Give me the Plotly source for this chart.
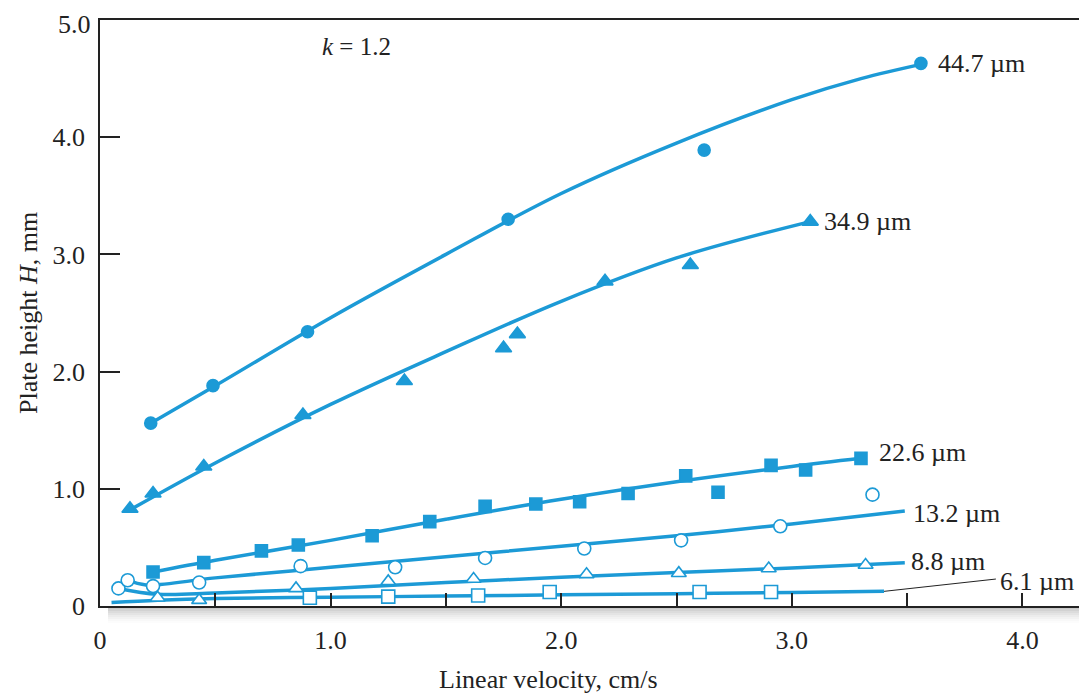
import plotly.graph_objects as go

BLUE = "#1c9ad6"
FONT = "Liberation Serif"

# ---------------- data ----------------
series_names = ["44.7 µm", "34.9 µm", "22.6 µm", "13.2 µm", "8.8 µm", "6.1 µm"]

# measured points
pts_447_x = [0.22, 0.49, 0.90, 1.77, 2.62, 3.56]
pts_447_y = [1.56, 1.88, 2.34, 3.30, 3.89, 4.63]

pts_349_x = [0.13, 0.23, 0.45, 0.88, 1.32, 1.75, 1.81, 2.19, 2.56, 3.08]
pts_349_y = [0.83, 0.96, 1.19, 1.63, 1.92, 2.20, 2.32, 2.77, 2.91, 3.28]

pts_226_x = [0.23, 0.45, 0.70, 0.86, 1.18, 1.43, 1.67, 1.89, 2.08, 2.29, 2.54, 2.68, 2.91, 3.06, 3.30]
pts_226_y = [0.29, 0.37, 0.47, 0.52, 0.60, 0.72, 0.85, 0.87, 0.89, 0.96, 1.11, 0.97, 1.20, 1.16, 1.26]

pts_132_x = [0.08, 0.12, 0.23, 0.43, 0.87, 1.28, 1.67, 2.10, 2.52, 2.95, 3.35]
pts_132_y = [0.15, 0.22, 0.17, 0.20, 0.34, 0.33, 0.41, 0.49, 0.56, 0.68, 0.95]

pts_88_x = [0.25, 0.43, 0.85, 1.25, 1.62, 2.11, 2.51, 2.90, 3.32]
pts_88_y = [0.07, 0.05, 0.15, 0.21, 0.23, 0.27, 0.28, 0.32, 0.35]

pts_61_x = [0.91, 1.25, 1.64, 1.95, 2.60, 2.91]
pts_61_y = [0.07, 0.08, 0.09, 0.12, 0.12, 0.12]

# fitted curves
fit_447_x = [0.22, 0.50, 1.00, 1.50, 2.00, 2.50, 3.00, 3.30, 3.58]
fit_447_y = [1.56, 1.88, 2.46, 3.00, 3.52, 3.95, 4.32, 4.50, 4.63]

fit_349_x = [0.13, 0.50, 1.00, 1.50, 2.00, 2.50, 3.08]
fit_349_y = [0.82, 1.22, 1.72, 2.17, 2.60, 2.97, 3.28]

fit_226_x = [0.23, 0.50, 1.00, 1.50, 2.00, 2.50, 3.00, 3.30]
fit_226_y = [0.29, 0.39, 0.56, 0.74, 0.91, 1.06, 1.19, 1.26]

fit_132_x = [0.12, 0.20, 0.50, 1.00, 1.50, 2.00, 2.50, 3.00, 3.49]
fit_132_y = [0.22, 0.18, 0.24, 0.33, 0.42, 0.51, 0.60, 0.70, 0.81]

fit_88_x = [0.08, 0.25, 0.50, 1.00, 1.50, 2.00, 2.50, 3.00, 3.49]
fit_88_y = [0.15, 0.10, 0.11, 0.15, 0.20, 0.245, 0.285, 0.325, 0.37]

fit_61_x = [0.05, 0.25, 0.50, 1.00, 1.50, 2.00, 2.50, 3.00, 3.40]
fit_61_y = [0.03, 0.05, 0.065, 0.075, 0.085, 0.095, 0.105, 0.115, 0.125]

leader_61_x = [3.40, 3.885]
leader_61_y = [0.125, 0.23]

x_tick_vals = [0, 0.5, 1.0, 1.5, 2.0, 2.5, 3.0, 3.5, 4.0]
x_tick_text = ["0", "", "1.0", "", "2.0", "", "3.0", "", "4.0"]
y_tick_vals = [0, 1, 2, 3, 4, 5]
y_tick_text = ["0", "1.0", "2.0", "3.0", "4.0", "5.0"]

# ---------------- figure ----------------
fig = go.Figure()

fits = [(fit_447_x, fit_447_y), (fit_349_x, fit_349_y), (fit_226_x, fit_226_y),
        (fit_132_x, fit_132_y), (fit_88_x, fit_88_y), (fit_61_x, fit_61_y)]
for fx, fy in fits:
    fig.add_trace(go.Scatter(x=fx, y=fy, mode="lines",
                             line=dict(color=BLUE, width=3.5, shape="spline"),
                             hoverinfo="skip", showlegend=False))

fig.add_trace(go.Scatter(x=leader_61_x, y=leader_61_y, mode="lines",
                         line=dict(color="#222222", width=1), showlegend=False))

markers = [
    (pts_447_x, pts_447_y, "circle", 12, BLUE),
    (pts_349_x, pts_349_y, "triangle-up", 14, BLUE),
    (pts_226_x, pts_226_y, "square", 12, BLUE),
    (pts_132_x, pts_132_y, "circle", 13, "white"),
    (pts_88_x, pts_88_y, "triangle-up", 13, "white"),
    (pts_61_x, pts_61_y, "square", 13, "white"),
]
for (px, py, sym, sz, fill), name in zip(markers, series_names):
    fig.add_trace(go.Scatter(x=px, y=py, mode="markers", name=name,
                             marker=dict(symbol=sym, size=sz, color=fill,
                                         line=dict(color=BLUE, width=1.6)),
                             cliponaxis=False, showlegend=False))

# curve labels
label_anchor = [
    (fit_447_x[-1], fit_447_y[-1], 10, 0),
    (fit_349_x[-1], fit_349_y[-1], 12, 0),
    (fit_226_x[-1], fit_226_y[-1], 16, 6),
    (fit_132_x[-1], fit_132_y[-1], 6, -2),
    (fit_88_x[-1], fit_88_y[-1], 4, 1),
    (leader_61_x[-1], leader_61_y[-1], 2, -2),
]
for (ax, ay, xs, ys), name in zip(label_anchor, series_names):
    fig.add_annotation(x=ax, y=ay, text=name, showarrow=False, xanchor="left",
                       yanchor="middle", xshift=xs, yshift=ys,
                       font=dict(family=FONT, size=26, color="#222222"))

fig.add_annotation(x=0.954, y=4.77, text="<i>k</i> = 1.2", showarrow=False,
                   xanchor="left", yanchor="middle",
                   font=dict(family=FONT, size=25, color="#222222"))

# top y tick label (plotly drops it at the very edge), drawn as annotation
fig.add_annotation(xref="paper", x=0, y=y_tick_vals[-1], text=y_tick_text[-1],
                   showarrow=False, xanchor="right", yanchor="middle",
                   xshift=-8, yshift=-4, borderpad=0,
                   font=dict(family=FONT, size=26, color="#222222"))

# axis titles as annotations
fig.add_annotation(xref="paper", yref="paper", x=(548 - 100) / 987, y=-(680 - 606) / 586,
                   text="Linear velocity, cm/s", showarrow=False,
                   xanchor="center", yanchor="middle",
                   font=dict(family=FONT, size=26, color="#222222"))
fig.add_annotation(xref="paper", yref="paper", x=-(100 - 28) / 987, y=(606 - 313) / 586,
                   text="Plate height <i>H</i>, mm", showarrow=False, textangle=-90,
                   xanchor="center", yanchor="middle",
                   font=dict(family=FONT, size=26, color="#222222"))

# shadow under x-axis
for i in range(8):
    fig.add_shape(type="rect", xref="paper", yref="paper",
                  x0=8 / 987, x1=1.0,
                  y0=-(1 + 2 * i) / 586, y1=-(1 + 2 * (i + 1)) / 586,
                  line=dict(width=0), fillcolor="#555555",
                  opacity=0.32 * (1 - i / 8) ** 1.5, layer="below")

# page has an 8px body margin, so the figure is sized to fit the window
fig.update_layout(
    width=1079, height=687,
    margin=dict(l=92, r=0, t=12, b=89),
    paper_bgcolor="white", plot_bgcolor="white",
    font=dict(family=FONT, size=26, color="#222222"),
    showlegend=False,
    xaxis=dict(range=[0, 987 / 230.6], showgrid=False, zeroline=False,
               showline=True, linecolor="#222222", linewidth=1.5, mirror=True,
               tickmode="array", tickvals=x_tick_vals, ticktext=x_tick_text,
               ticks="inside", ticklen=13, tickwidth=1.5, tickcolor="#222222",
               ticklabelstandoff=10,
               tickfont=dict(family=FONT, size=26, color="#222222")),
    yaxis=dict(range=[0, 5], showgrid=False, zeroline=False,
               showline=True, linecolor="#222222", linewidth=1.5,
               tickmode="array", tickvals=y_tick_vals[:-1], ticktext=y_tick_text[:-1],
               ticks="inside", ticklen=20, tickwidth=1.5, tickcolor="#222222",
               ticklabelstandoff=8,
               tickfont=dict(family=FONT, size=26, color="#222222")),
)

fig.write_html("out.html")
